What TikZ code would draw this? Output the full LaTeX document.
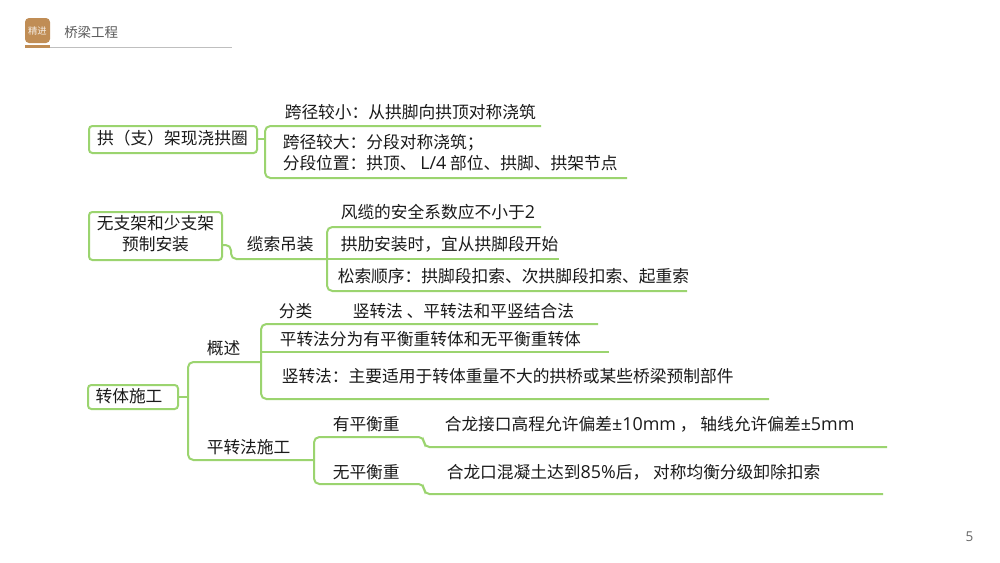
\documentclass[tikz,border=0pt]{standalone}
\usepackage{fontspec}
\setmainfont{Noto Sans CJK SC}
\newfontfamily\latinpart[Scale=1.07]{Open Sans}
\newcommand{\lt}[1]{{\latinpart #1}}
\definecolor{gline}{HTML}{9BD46F}
\definecolor{tanhead}{HTML}{C08D55}
\definecolor{txt}{HTML}{1A1A1A}
\tikzset{
 px/.style={x=0.75pt,y=-0.75pt},
 lab/.style={font=\fontsize{12.55pt}{15.6pt}\selectfont,text=txt,inner sep=0pt,anchor=west,align=left},
 boxlab/.style={lab,anchor=center,align=center},
 box/.style={draw=gline,line width=1.5pt,rounded corners=2.5pt},
 conn/.style={draw=gline,line width=1.5pt,rounded corners=4pt}
}
\begin{document}
\begin{tikzpicture}[px]
\useasboundingbox (0,0) rectangle (1000,562);
\fill[white] (0,0) rectangle (1000,562);
% header
\fill[tanhead,rounded corners=3pt] (25,18) rectangle (50,43);
\fill[tanhead] (25,45) rectangle (50,48);
\draw[black!25,line width=0.8pt] (50,47.3) -- (232,47.3);
\node[font=\fontsize{7pt}{8pt}\selectfont,text=white!85!tanhead,inner sep=0pt] (logo) at (37.5,30.5) {精进};
\node[lab,font=\fontsize{10.1pt}{12pt}\selectfont,text=black!65] (title) at (64,32) {桥梁工程};
\node[font=\fontsize{9.5pt}{11pt}\selectfont,text=black!60,inner sep=0pt] (pg) at (969.5,537) {\lt{5}};
% group 1
\draw[box] (89,126) rectangle (257,153);
\node[boxlab] (a) at (172.5,138.5) {拱（支）架现浇拱圈};
\coordinate (ja) at (257,139);
\coordinate (j1) at (265,139);
\coordinate (e1a) at (541,126);
\coordinate (e1b) at (627,178);
\draw[conn] (ja) -- (j1);
\draw[conn] (e1a) -| (j1) |- (e1b);
\node[lab] (a1) at (284.5,112) {跨径较小：从拱脚向拱顶对称浇筑};
\node[lab] (a2) at (282.5,152.5) {跨径较大：分段对称浇筑；\\分段位置：拱顶、 \lt{L/4} 部位、拱脚、拱架节点};
% group 2
\draw[box] (89,212) rectangle (222,260);
\node[boxlab] (b) at (155.5,234) {无支架和少支架\\预制安装};
\coordinate (jb) at (222,245);
\coordinate (j2) at (327,259);
\draw[conn] (jb) -- (231,245) -- (231,259) -- (j2);
\draw[conn] (541,227) -| (j2) |- (687,291);
\draw[conn] (j2) -- (559,259);
\node[lab] (b0) at (246.5,244) {缆索吊装};
\node[lab] (b1) at (340.5,212) {风缆的安全系数应不小于\lt{2}};
\node[lab] (b2) at (340.5,244) {拱肋安装时，宜从拱脚段开始};
\node[lab] (b3) at (337.5,276) {松索顺序：拱脚段扣索、次拱脚段扣索、起重索};
% group 3
\draw[box] (88,385) rectangle (178,409);
\node[boxlab] (c) at (129,396.5) {转体施工};
\coordinate (jc) at (178,397);
\coordinate (j3) at (188,397);
\coordinate (j4) at (261,362);
\coordinate (j5) at (314,460);
\draw[conn] (jc) -- (j3);
\draw[conn] (j4) -| (j3) |- (j5);
\draw[conn] (598,324) -| (j4) |- (769,399);
\draw[conn] (609,352) -- (261,352);
\draw[conn] (887,447) -- (424,447) -- (424,437) -- (314,437) -- (j5);
\draw[conn] (j5) -- (314,484) -- (424,484) -- (424,494) -- (883,494);
\node[lab] (c1) at (206.5,348) {概述};
\node[lab] (c2) at (206.5,447) {平转法施工};
\node[lab] (d1) at (278.5,311) {分类};
\node[lab] (d1v) at (352.5,311) {竖转法 、平转法和平竖结合法};
\node[lab] (d2) at (279.5,339) {平转法分为有平衡重转体和无平衡重转体};
\node[lab] (d3) at (281.5,376) {竖转法：主要适用于转体重量不大的拱桥或某些桥梁预制部件};
\node[lab] (e1) at (332.5,424) {有平衡重};
\node[lab] (e1v) at (444.5,424) {合龙接口高程允许偏差\lt{±10mm} ， 轴线允许偏差\lt{±5mm}};
\node[lab] (e2) at (332.5,472) {无平衡重};
\node[lab] (e2v) at (446.5,472) {合龙口混凝土达到\lt{85\%}后， 对称均衡分级卸除扣索};
\end{tikzpicture}
\end{document}
